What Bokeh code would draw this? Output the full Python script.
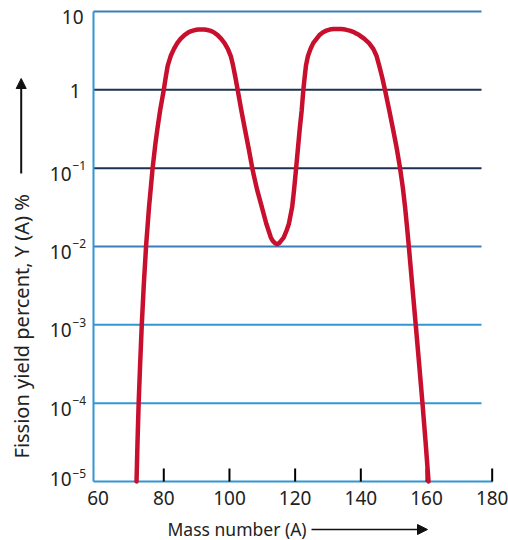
from math import pi
from bokeh.plotting import figure
from bokeh.models import Range1d, Label, Arrow, NormalHead
from bokeh.embed import file_html
from bokeh.resources import INLINE
from bokeh.core.properties import value

# ---- data ----
mass = [71.7, 72.0, 72.35, 72.8, 73.3, 73.9, 74.6, 75.5, 76.6, 77.42, 78.05, 78.9,
        80.0, 80.6, 81.2, 82.1, 83.1, 84.1, 85.1, 86.3, 87.6, 88.6, 89.5, 90.5,
        91.4, 92.4, 93.3, 94.3, 95.2, 96.4, 97.5, 98.5, 99.5, 100.4, 101.1, 101.8,
        102.5, 103.6, 104.7, 105.85, 106.95, 107.6, 108.47, 109.84, 111.22, 112.61,
        113.19, 113.89, 114.5, 115.1, 115.7, 116.5, 117.4, 118.1, 119.1, 119.65,
        120.3, 120.85, 121.4, 122.0, 122.5, 122.9, 123.3, 123.9, 124.7, 125.5,
        126.5, 127.4, 128.5, 129.5, 130.5, 131.6, 132.8, 134.0, 135.3, 136.6,
        137.9, 139.5, 141.1, 142.5, 143.8, 144.8, 145.6, 146.5, 147.35, 148.65,
        149.8, 150.95, 151.95, 152.8, 153.48, 154.07, 154.62, 155.67, 156.72, 157.76,
        158.77, 159.73, 160.62]
yield_pct = [1e-5, 3.16e-5, 1e-4, 3.16e-4, 1e-3, 3.16e-3, 0.01, 0.0316, 0.1, 0.2, 0.316, 0.55,
             1.0, 1.45, 2.04, 2.7, 3.34, 3.95, 4.47, 5.0, 5.44, 5.65, 5.8, 5.88,
             5.9, 5.88, 5.8, 5.65, 5.44, 5.0, 4.47, 3.95, 3.34, 2.7, 2.04, 1.45,
             1.0, 0.55, 0.316, 0.178, 0.1, 0.075, 0.052, 0.032, 0.0195, 0.013,
             0.0118, 0.011, 0.0107, 0.011, 0.0118, 0.013, 0.016, 0.0195, 0.032, 0.052,
             0.1, 0.178, 0.316, 0.55, 1.0, 1.45, 2.04, 2.7, 3.34, 3.95,
             4.47, 5.0, 5.44, 5.7, 5.88, 5.97, 6.0, 5.97, 5.88, 5.7,
             5.44, 5.0, 4.47, 3.95, 3.34, 2.7, 2.04, 1.45, 1.0, 0.55,
             0.316, 0.178, 0.1, 0.0562, 0.0316, 0.0178, 0.01, 3.16e-3, 1e-3, 3.16e-4,
             1e-4, 3.16e-5, 1e-5]

x_tick_labels = [60, 80, 100, 120, 140, 160, 180]
x_tick_marks = [80, 100, 120, 140, 160, 180]
y_grid = [10, 1, 0.1, 0.01, 1e-3, 1e-4]
y_plain_ticks = [10, 1]
y_plain_text = ["10", "1"]
y_exp_ticks = [0.1, 0.01, 1e-3, 1e-4, 1e-5]
y_exp_text = ["\u22121", "\u22122", "\u22123", "\u22124", "\u22125"]

# ---- styling / layout ----
FONT = value("Noto Sans")
TXT = "#222222"
LIGHT_BLUE = "#3196d3"
MID_BLUE = "#3a7db8"
DARK_BLUE = "#1d3250"
grid_colors = [MID_BLUE, DARK_BLUE, DARK_BLUE, MID_BLUE, LIGHT_BLUE, LIGHT_BLUE]
CURVE_RED = "#c8102e"

W, H = 508, 540
X60_PX, PX_PER_UNIT = 97.6, 3.284      # pixel of A=60 and pixels per mass unit
Y10_PX, PX_PER_DEC = 11.0, 78.33       # pixel of Y=10 and pixels per decade
Y_MIN, Y_MAX = 1e-5, 10
PLOT_X0 = 60 - (X60_PX - 93) / PX_PER_UNIT   # left edge of plotting box
PLOT_X1 = 180.15
GRID_END = 60 + (481 - X60_PX) / PX_PER_UNIT

x_range = Range1d(60 - X60_PX / PX_PER_UNIT, 60 + (W - X60_PX) / PX_PER_UNIT)
y_range = Range1d(10 ** (1 - (H - Y10_PX) / PX_PER_DEC), 10 ** (1 + Y10_PX / PX_PER_DEC))

p = figure(width=W, height=H, x_range=x_range, y_range=y_range,
           y_axis_type="log", x_axis_location=None, y_axis_location=None,
           output_backend="svg", toolbar_location=None, min_border=0)
p.min_border_left = p.min_border_right = p.min_border_top = p.min_border_bottom = 0
p.outline_line_color = None
p.xgrid.visible = False
p.ygrid.visible = False
p.background_fill_color = "white"
p.border_fill_color = "white"

# horizontal grid lines
p.segment(x0=[PLOT_X0] * len(y_grid), x1=[GRID_END] * len(y_grid), y0=y_grid, y1=y_grid,
          line_color=grid_colors, line_width=2)
# box: left axis line and bottom axis line
p.segment(x0=[PLOT_X0, PLOT_X0], y0=[Y_MIN, Y_MIN], x1=[PLOT_X0, PLOT_X1], y1=[Y_MAX, Y_MIN],
          line_color=LIGHT_BLUE, line_width=2)

# inner tick marks on the mass axis
p.ray(x=x_tick_marks, y=[Y_MIN] * len(x_tick_marks), length=13, length_units="screen",
      angle=pi / 2, line_color="black", line_width=2)

# x tick labels
p.text(x=x_tick_labels, y=[Y_MIN] * len(x_tick_labels), text=[str(v) for v in x_tick_labels],
       y_offset=17, text_align="center", text_baseline="middle", text_font=FONT,
       text_font_size="19px", text_color=TXT)

# y tick labels
p.text(x=[PLOT_X0] * 2, y=y_plain_ticks, text=y_plain_text, x_offset=[-10, -13],
       y_offset=[5.5, 1], text_align="right", text_baseline="middle", text_font=FONT,
       text_font_size="19px", text_color=TXT)
p.text(x=[PLOT_X0] * len(y_exp_ticks), y=y_exp_ticks, text=["10"] * len(y_exp_ticks),
       x_offset=-22, y_offset=[5.5, 5.5, 5.5, 5.5, -2], text_align="right",
       text_baseline="middle", text_font=FONT, text_font_size="19px", text_color=TXT)
p.text(x=[PLOT_X0] * len(y_exp_ticks), y=y_exp_ticks, text=y_exp_text,
       x_offset=-21, y_offset=[-2.5, -2.5, -2.5, -2.5, -7.5], text_align="left",
       text_baseline="middle", text_font=FONT, text_font_size="12px", text_color=TXT)

# curve
p.line(mass, yield_pct, line_color=CURVE_RED, line_width=4.5, line_join="round",
       line_cap="round")

# axis titles with arrows
p.add_layout(Label(x=21, y=H - 458, x_units="screen", y_units="screen", angle=pi / 2,
                   text="Fission yield percent, Y (A) %", text_align="left",
                   text_baseline="middle", text_font="Noto Sans", text_font_size="20px",
                   text_color=TXT))
p.add_layout(Arrow(x_start=20.7, y_start=H - 173, x_end=20.7, y_end=H - 78,
                   start_units="screen", end_units="screen", line_width=2,
                   line_color="#111111",
                   end=NormalHead(size=10, fill_color="#111111", line_color="#111111")))
p.add_layout(Label(x=167, y=H - 528, x_units="screen", y_units="screen",
                   text="Mass number (A)", text_align="left", text_baseline="middle",
                   text_font="Noto Sans", text_font_size="17.5px", text_color=TXT))
p.add_layout(Arrow(x_start=311, y_start=H - 529, x_end=427, y_end=H - 529,
                   start_units="screen", end_units="screen", line_width=1.6,
                   line_color="#111111",
                   end=NormalHead(size=10, fill_color="#111111", line_color="#111111")))

open("out.html", "w").write(file_html(p, INLINE))
